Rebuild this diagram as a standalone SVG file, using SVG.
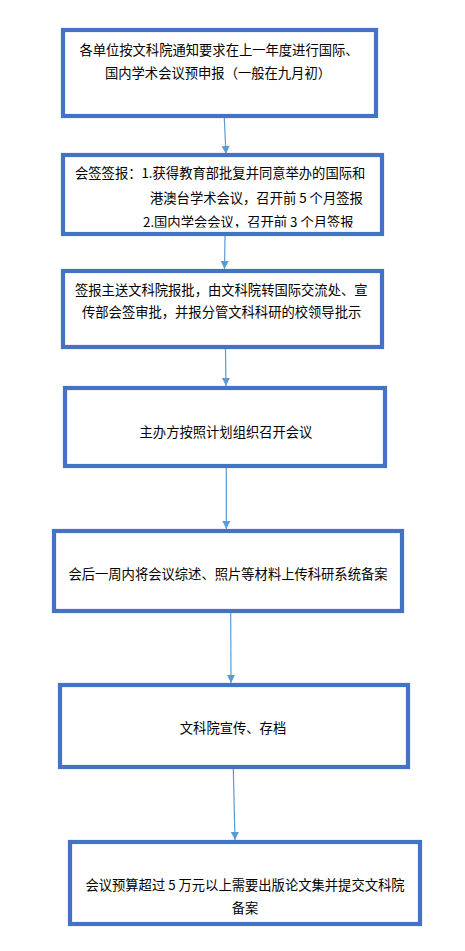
<svg xmlns="http://www.w3.org/2000/svg" width="465" height="951" viewBox="0 0 465 951">
<style>
.box{fill:#ffffff;stroke:#4472C4;stroke-width:4.2}
.t{font-family:"Noto Sans CJK SC","Noto Sans",sans-serif;font-size:13.3px;fill:#000000}
.c{text-anchor:middle}
.conn{stroke:#5B9BD5;stroke-width:1.2;fill:none;marker-end:url(#arr)}
</style>
<defs>
<marker id="arr" markerUnits="userSpaceOnUse" markerWidth="10" markerHeight="10" viewBox="0 0 10 10" refX="9" refY="5" orient="auto">
<path d="M1,1 L9,5 L1,9 Z" fill="#5B9BD5"/>
</marker>
<clipPath id="clip2"><rect x="60" y="150" width="330" height="77.5"/></clipPath>
</defs>
<rect width="465" height="951" fill="#ffffff"/>
<g id="connectors">
<line class="conn" x1="224.3" y1="118" x2="226" y2="154"/>
<line class="conn" x1="225" y1="236" x2="224.5" y2="269"/>
<line class="conn" x1="225.5" y1="349" x2="226" y2="386"/>
<line class="conn" x1="226.3" y1="468" x2="226.3" y2="529"/>
<line class="conn" x1="230.7" y1="613" x2="231" y2="683"/>
<line class="conn" x1="233.3" y1="769" x2="235" y2="840"/>
</g>
<g id="n1">
<rect class="box" x="63" y="30" width="313" height="86"/>
<text class="t c" x="219" y="54.5">各单位按文科院通知要求在上一年度进行国际、</text>
<text class="t c" x="218" y="77.5">国内学术会议预申报（一般在九月初）</text>
</g>
<g id="n2">
<rect class="box" x="63" y="155" width="319" height="79"/>
<text class="t" x="75" y="177.5">会签签报：1.获得教育部批复并同意举办的国际和</text>
<text class="t" x="150" y="202.5">港澳台学术会议，召开前 5 个月签报</text>
<text class="t" x="143" y="227" clip-path="url(#clip2)">2.国内学会会议，召开前 3 个月签报</text>
</g>
<g id="n3">
<rect class="box" x="63" y="271" width="319" height="76"/>
<text class="t" x="75" y="294.5">签报主送文科院报批，由文科院转国际交流处、宣</text>
<text class="t" x="82" y="317">传部会签审批，并报分管文科科研的校领导批示</text>
</g>
<g id="n4">
<rect class="box" x="65" y="388" width="320" height="78"/>
<text class="t c" x="226" y="437">主办方按照计划组织召开会议</text>
</g>
<g id="n5">
<rect class="box" x="54" y="531" width="348" height="80"/>
<text class="t c" x="228" y="578.5">会后一周内将会议综述、照片等材料上传科研系统备案</text>
</g>
<g id="n6">
<rect class="box" x="60" y="685" width="348" height="82"/>
<text class="t c" x="233" y="733">文科院宣传、存档</text>
</g>
<g id="n7">
<rect class="box" x="70" y="842" width="350" height="82"/>
<text class="t c" x="245" y="889.5">会议预算超过 5 万元以上需要出版论文集并提交文科院</text>
<text class="t c" x="245" y="913">备案</text>
</g>
</svg>
